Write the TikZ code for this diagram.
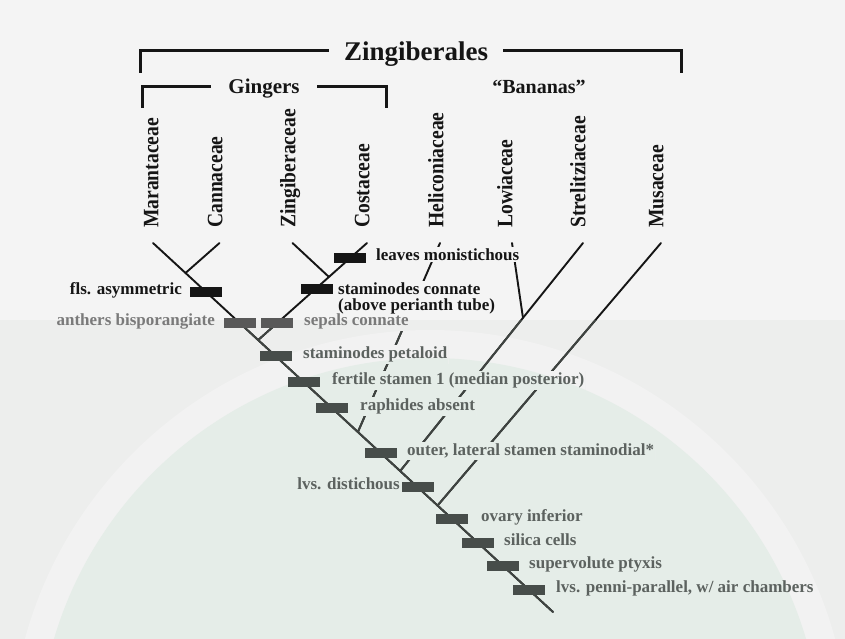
\documentclass[tikz,border=0pt]{standalone}
\usepackage{fontspec}
\setmainfont{Liberation Serif}
\pgfdeclarelayer{bg}
\pgfdeclarelayer{lines}
\pgfdeclarelayer{patch}
\pgfsetlayers{bg,lines,patch,main}
\definecolor{bgtop}{HTML}{F4F4F4}
\definecolor{bglow}{HTML}{EDEEED}
\definecolor{bgband}{HTML}{F2F2F2}
\definecolor{bgmint}{HTML}{E5EDE8}
\definecolor{ink}{HTML}{151515}
\definecolor{inklow}{HTML}{3F4441}
\definecolor{txtgray}{HTML}{7A7A7A}
\definecolor{txtlow}{HTML}{5C625F}
\definecolor{bargray}{HTML}{595959}
\definecolor{barlow}{HTML}{474D4A}
\newcommand\bgpaint{%
  \fill[bgtop] (0,0) rectangle (845,639);
  \begin{scope}
    \clip (0,320) rectangle (845,639);
    \fill[bglow] (0,320) rectangle (845,639);
    \fill[bgband] (430,750) circle[radius=420pt];
    \fill[bgmint] (430,750) circle[radius=392pt];
  \end{scope}}
\newcommand\treelines[1]{%
  \draw[branch,draw=#1] (mTop) -- (spEnd);
  \draw[branch,draw=#1] (cTop) -- (jMC);
  \draw[branch,draw=#1] (zTop) -- (jZC);
  \draw[branch,draw=#1] (coTop) -- (jG);
  \draw[branch,draw=#1] (hTop) -- (jH);
  \draw[branch,draw=#1] (lTop) -- (jLS);
  \draw[branch,draw=#1] (sTop) -- (jS);
  \draw[branch,draw=#1] (muTop) -- (jMu);}
\newcommand\patchbg[1]{%
  \begin{pgfonlayer}{patch}
    \begin{scope}
      \clip (#1.south west) rectangle (#1.north east);
      \bgpaint
    \end{scope}
  \end{pgfonlayer}}
\newcommand\tx[1]{\scalebox{0.89}[1]{#1}}
\begin{document}
\begin{tikzpicture}[x=1pt,y=-1pt,
  lab/.style={font=\fontsize{17}{16.5}\selectfont\bfseries, inner sep=1pt},
  taxon/.style={font=\fontsize{22}{22}\selectfont\bfseries, rotate=90, anchor=mid west, inner sep=0pt, text=ink},
  barnode/.style={minimum width=32pt, minimum height=10pt, inner sep=0pt, outer sep=0pt},
  branch/.style={line width=1.9pt, line cap=round},
  brk/.style={line width=3pt, draw=ink}]
\useasboundingbox (0,0) rectangle (845,639);
\begin{pgfonlayer}{bg}\bgpaint\end{pgfonlayer}

% ---- top brackets
\node[font=\fontsize{27}{27}\selectfont\bfseries, anchor=base, text=ink] (zing) at (416,61) {Zingiberales};
\coordinate (zA) at (140,73); \coordinate (zB) at (329,51);
\coordinate (zC) at (503,51); \coordinate (zD) at (681,73);
\draw[brk] (zA) |- (zB);
\draw[brk] (zC) -| (zD);
\node[font=\fontsize{21}{21}\selectfont\bfseries, anchor=base, text=ink] (ging) at (264,94) {Gingers};
\coordinate (gA) at (142,108); \coordinate (gB) at (211,87);
\coordinate (gC) at (317,87); \coordinate (gD) at (386,108);
\draw[brk] (gA) |- (gB);
\draw[brk] (gC) -| (gD);
\node[font=\fontsize{20}{20}\selectfont\bfseries, anchor=base, text=ink] (banan) at (539,94) {``Bananas''};

% ---- taxa
\node[taxon] (tMar) at (156,228) {\tx{Marantaceae}};
\node[taxon] (tCan) at (220,228) {\tx{Cannaceae}};
\node[taxon] (tZin) at (293,228) {\tx{Zingiberaceae}};
\node[taxon] (tCos) at (367,228) {\tx{Costaceae}};
\node[taxon] (tHel) at (441,228) {\tx{Heliconiaceae}};
\node[taxon] (tLow) at (510,228) {\tx{Lowiaceae}};
\node[taxon] (tStr) at (583,228) {\tx{Strelitziaceae}};
\node[taxon] (tMus) at (661,228) {\tx{Musaceae}};

% ---- tree coordinates
\coordinate (mTop) at (153,243);
\coordinate (spEnd) at (553,612);
\coordinate (cTop) at (219.5,243);
\coordinate (jMC) at (185.5,273);
\coordinate (zTop) at (292.5,243);
\coordinate (jZC) at (329,277);
\coordinate (coTop) at (367,243);
\coordinate (jG) at (258.2,340);
\coordinate (hTop) at (440,243);
\coordinate (jH) at (357.9,432);
\coordinate (lTop) at (512,243);
\coordinate (jLS) at (523,318);
\coordinate (sTop) at (583,243);
\coordinate (jS) at (400.2,471);
\coordinate (muTop) at (661,243);
\coordinate (jMu) at (437.6,505.5);

\begin{pgfonlayer}{lines}
  \treelines{ink}
  \begin{scope}
    \clip (0,320) rectangle (845,639);
    \treelines{inklow}
  \end{scope}
\end{pgfonlayer}

% ---- character bars
\node[barnode, fill=ink] (bLeaf) at (350.2,258) {};
\node[barnode, fill=ink] (bStc) at (316.5,289) {};
\node[barnode, fill=ink] (bFls) at (206.1,292) {};
\node[barnode, fill=bargray] (bAnth) at (239.7,323) {};
\node[barnode, fill=bargray] (bSep) at (277.3,323) {};
\node[barnode, fill=barlow] (bPet) at (275.5,356) {};
\node[barnode, fill=barlow] (bFert) at (303.7,382) {};
\node[barnode, fill=barlow] (bRaph) at (331.9,408) {};
\node[barnode, fill=barlow] (bOut) at (380.6,453) {};
\node[barnode, fill=barlow] (bDist) at (417.5,487) {};
\node[barnode, fill=barlow] (bOva) at (452.2,519) {};
\node[barnode, fill=barlow] (bSil) at (478.2,543) {};
\node[barnode, fill=barlow] (bSup) at (503.1,566) {};
\node[barnode, fill=barlow] (bPen) at (529.1,590) {};

% ---- character labels
\node[lab, anchor=mid east, text=ink] (lFls) at (183,292) {fls. asymmetric};
\node[lab, anchor=mid east, text=txtgray] (lAnth) at (216,323) {anthers bisporangiate};
\node[lab, anchor=mid west, text=ink] (lLeaf) at (375,258) {leaves monistichous};
\node[lab, anchor=west, align=left, text=ink] (lStc) at (337,298.5) {staminodes connate\\(above perianth tube)};
\node[lab, anchor=mid west, text=txtgray] (lSep) at (303,323) {sepals connate};
\node[lab, anchor=mid west, text=txtlow] (lPet) at (302,356) {staminodes petaloid};
\node[lab, anchor=mid west, text=txtlow] (lFert) at (331,382) {fertile stamen 1 (median posterior)};
\node[lab, anchor=mid west, text=txtlow] (lRaph) at (359,408) {raphides absent};
\node[lab, anchor=mid west, text=txtlow] (lOut) at (406,453) {outer, lateral stamen staminodial*};
\node[lab, anchor=mid east, text=txtlow] (lDist) at (401,487) {lvs. distichous};
\node[lab, anchor=mid west, text=txtlow] (lOva) at (480,519) {ovary inferior};
\node[lab, anchor=mid west, text=txtlow] (lSil) at (503,543) {silica cells};
\node[lab, anchor=mid west, text=txtlow] (lSup) at (528,566) {supervolute ptyxis};
\node[lab, anchor=mid west, text=txtlow] (lPen) at (555,590) {lvs. penni-parallel, w/ air chambers};

\patchbg{lLeaf}
\patchbg{lStc}
\patchbg{lSep}
\patchbg{lPet}
\patchbg{lFert}
\patchbg{lRaph}
\patchbg{lOut}
\end{tikzpicture}
\end{document}
